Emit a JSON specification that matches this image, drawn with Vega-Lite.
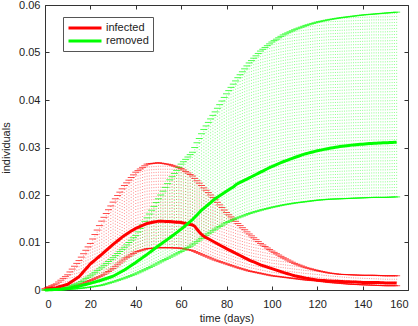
{
"$schema":"https://vega.github.io/schema/vega-lite/v6.json",
"width":363,"height":285,
"autosize":{"type":"none"},
"padding":{"left":45,"top":5,"right":10,"bottom":36},
"config":{"font":"Liberation Sans","view":{"stroke":"#333","strokeWidth":1},
"axis":{"grid":false,"domain":false,"tickSize":-4,"tickColor":"#333","labelFontSize":11,"titleFontSize":11,"labelColor":"#222","titleColor":"#222","titleFontWeight":"normal","labelFont":"Liberation Sans","titleFont":"Liberation Sans"},
"legend":{"orient":"none","legendX":18,"legendY":12,"strokeColor":"#555","fillColor":"white","padding":4,"symbolType":"M-1,0H5","symbolSize":121,"symbolStrokeWidth":3,"labelFontSize":11,"labelColor":"#222","labelOffset":25,"rowPadding":-1,"title":null}},
"data":{"values":[
{"d":0,"infected":0.0002,"il":0,"iu":0.0003,"removed":0,"rl":0,"ru":0},
{"d":1,"infected":0.00026,"il":0.00002,"iu":0.0005,"removed":0.00002,"rl":0,"ru":0.00004},
{"d":2,"infected":0.00032,"il":0.00004,"iu":0.0007,"removed":0.00004,"rl":0,"ru":0.00008},
{"d":3,"infected":0.00038,"il":0.00006,"iu":0.0009,"removed":0.00006,"rl":0,"ru":0.00012},
{"d":4,"infected":0.00044,"il":0.00008,"iu":0.0011,"removed":0.00008,"rl":0,"ru":0.00016},
{"d":5,"infected":0.0005,"il":0.0001,"iu":0.0013,"removed":0.0001,"rl":0,"ru":0.0002},
{"d":6,"infected":0.00064,"il":0.00016,"iu":0.00168,"removed":0.00014,"rl":0.00002,"ru":0.00028},
{"d":7,"infected":0.00078,"il":0.00022,"iu":0.00206,"removed":0.00018,"rl":0.00004,"ru":0.00036},
{"d":8,"infected":0.00092,"il":0.00028,"iu":0.00244,"removed":0.00022,"rl":0.00006,"ru":0.00044},
{"d":9,"infected":0.00106,"il":0.00034,"iu":0.00282,"removed":0.00026,"rl":0.00008,"ru":0.00052},
{"d":10,"infected":0.0012,"il":0.0004,"iu":0.0032,"removed":0.0003,"rl":0.0001,"ru":0.0006},
{"d":11,"infected":0.00152,"il":0.00052,"iu":0.0038,"removed":0.0004,"rl":0.00014,"ru":0.00078},
{"d":12,"infected":0.00184,"il":0.00064,"iu":0.0044,"removed":0.0005,"rl":0.00018,"ru":0.00096},
{"d":13,"infected":0.00216,"il":0.00076,"iu":0.005,"removed":0.0006,"rl":0.00022,"ru":0.00114},
{"d":14,"infected":0.00248,"il":0.00088,"iu":0.0056,"removed":0.0007,"rl":0.00026,"ru":0.00132},
{"d":15,"infected":0.0028,"il":0.001,"iu":0.0062,"removed":0.0008,"rl":0.0003,"ru":0.0015},
{"d":16,"infected":0.00334,"il":0.0012,"iu":0.00692,"removed":0.00092,"rl":0.00036,"ru":0.0018},
{"d":17,"infected":0.00388,"il":0.0014,"iu":0.00764,"removed":0.00104,"rl":0.00042,"ru":0.0021},
{"d":18,"infected":0.00442,"il":0.0016,"iu":0.00836,"removed":0.00116,"rl":0.00048,"ru":0.0024},
{"d":19,"infected":0.00496,"il":0.0018,"iu":0.00908,"removed":0.00128,"rl":0.00054,"ru":0.0027},
{"d":20,"infected":0.0055,"il":0.002,"iu":0.0098,"removed":0.0014,"rl":0.0006,"ru":0.003},
{"d":21,"infected":0.0059,"il":0.0022,"iu":0.01074,"removed":0.00154,"rl":0.00068,"ru":0.00336},
{"d":22,"infected":0.0063,"il":0.0024,"iu":0.01168,"removed":0.00168,"rl":0.00076,"ru":0.00372},
{"d":23,"infected":0.0067,"il":0.0026,"iu":0.01262,"removed":0.00182,"rl":0.00084,"ru":0.00408},
{"d":24,"infected":0.0071,"il":0.0028,"iu":0.01356,"removed":0.00196,"rl":0.00092,"ru":0.00444},
{"d":25,"infected":0.0075,"il":0.003,"iu":0.0145,"removed":0.0021,"rl":0.001,"ru":0.0048},
{"d":26,"infected":0.00792,"il":0.0033,"iu":0.0153,"removed":0.00226,"rl":0.00114,"ru":0.0052},
{"d":27,"infected":0.00834,"il":0.0036,"iu":0.0161,"removed":0.00242,"rl":0.00128,"ru":0.0056},
{"d":28,"infected":0.00876,"il":0.0039,"iu":0.0169,"removed":0.00258,"rl":0.00142,"ru":0.006},
{"d":29,"infected":0.00918,"il":0.0042,"iu":0.0177,"removed":0.00274,"rl":0.00156,"ru":0.0064},
{"d":30,"infected":0.0096,"il":0.0045,"iu":0.0185,"removed":0.0029,"rl":0.0017,"ru":0.0068},
{"d":31,"infected":0.00998,"il":0.0049,"iu":0.0192,"removed":0.00316,"rl":0.00186,"ru":0.00724},
{"d":32,"infected":0.01036,"il":0.0053,"iu":0.0199,"removed":0.00342,"rl":0.00202,"ru":0.00768},
{"d":33,"infected":0.01074,"il":0.0057,"iu":0.0206,"removed":0.00368,"rl":0.00218,"ru":0.00812},
{"d":34,"infected":0.01112,"il":0.0061,"iu":0.0213,"removed":0.00394,"rl":0.00234,"ru":0.00856},
{"d":35,"infected":0.0115,"il":0.0065,"iu":0.022,"removed":0.0042,"rl":0.0025,"ru":0.009},
{"d":36,"infected":0.0118,"il":0.0068,"iu":0.02256,"removed":0.00452,"rl":0.00268,"ru":0.0095},
{"d":37,"infected":0.0121,"il":0.0071,"iu":0.02312,"removed":0.00484,"rl":0.00286,"ru":0.01},
{"d":38,"infected":0.0124,"il":0.0074,"iu":0.02368,"removed":0.00516,"rl":0.00304,"ru":0.0105},
{"d":39,"infected":0.0127,"il":0.0077,"iu":0.02424,"removed":0.00548,"rl":0.00322,"ru":0.011},
{"d":40,"infected":0.013,"il":0.008,"iu":0.0248,"removed":0.0058,"rl":0.0034,"ru":0.0115},
{"d":41,"infected":0.0132,"il":0.00814,"iu":0.02514,"removed":0.00614,"rl":0.00362,"ru":0.01224},
{"d":42,"infected":0.0134,"il":0.00828,"iu":0.02548,"removed":0.00648,"rl":0.00384,"ru":0.01298},
{"d":43,"infected":0.0136,"il":0.00842,"iu":0.02582,"removed":0.00682,"rl":0.00406,"ru":0.01372},
{"d":44,"infected":0.0138,"il":0.00856,"iu":0.02616,"removed":0.00716,"rl":0.00428,"ru":0.01446},
{"d":45,"infected":0.014,"il":0.0087,"iu":0.0265,"removed":0.0075,"rl":0.0045,"ru":0.0152},
{"d":46,"infected":0.0141,"il":0.00874,"iu":0.02656,"removed":0.00786,"rl":0.00474,"ru":0.016},
{"d":47,"infected":0.0142,"il":0.00878,"iu":0.02662,"removed":0.00822,"rl":0.00498,"ru":0.0168},
{"d":48,"infected":0.0143,"il":0.00882,"iu":0.02668,"removed":0.00858,"rl":0.00522,"ru":0.0176},
{"d":49,"infected":0.0144,"il":0.00886,"iu":0.02674,"removed":0.00894,"rl":0.00546,"ru":0.0184},
{"d":50,"infected":0.0145,"il":0.0089,"iu":0.0268,"removed":0.0093,"rl":0.0057,"ru":0.0192},
{"d":51,"infected":0.0145,"il":0.0089,"iu":0.02672,"removed":0.00964,"rl":0.00594,"ru":0.02},
{"d":52,"infected":0.0145,"il":0.0089,"iu":0.02664,"removed":0.00998,"rl":0.00618,"ru":0.0208},
{"d":53,"infected":0.0144,"il":0.0089,"iu":0.02656,"removed":0.01032,"rl":0.00642,"ru":0.0216},
{"d":54,"infected":0.0144,"il":0.0089,"iu":0.02648,"removed":0.01066,"rl":0.00666,"ru":0.0224},
{"d":55,"infected":0.0144,"il":0.0089,"iu":0.0264,"removed":0.011,"rl":0.0069,"ru":0.0232},
{"d":56,"infected":0.01436,"il":0.00888,"iu":0.02624,"removed":0.01136,"rl":0.00714,"ru":0.02386},
{"d":57,"infected":0.01432,"il":0.00886,"iu":0.02608,"removed":0.01172,"rl":0.00738,"ru":0.02452},
{"d":58,"infected":0.01428,"il":0.00884,"iu":0.02592,"removed":0.01208,"rl":0.00762,"ru":0.02518},
{"d":59,"infected":0.01424,"il":0.00882,"iu":0.02576,"removed":0.01244,"rl":0.00786,"ru":0.02584},
{"d":60,"infected":0.0142,"il":0.0088,"iu":0.0256,"removed":0.0128,"rl":0.0081,"ru":0.0265},
{"d":61,"infected":0.0141,"il":0.0087,"iu":0.02528,"removed":0.0132,"rl":0.00838,"ru":0.027},
{"d":62,"infected":0.014,"il":0.0086,"iu":0.02496,"removed":0.0136,"rl":0.00866,"ru":0.0275},
{"d":63,"infected":0.0139,"il":0.0085,"iu":0.02464,"removed":0.014,"rl":0.00894,"ru":0.028},
{"d":64,"infected":0.0138,"il":0.0084,"iu":0.02432,"removed":0.0144,"rl":0.00922,"ru":0.0285},
{"d":65,"infected":0.0137,"il":0.0083,"iu":0.024,"removed":0.0148,"rl":0.0095,"ru":0.029},
{"d":66,"infected":0.0134,"il":0.0081,"iu":0.0235,"removed":0.0153,"rl":0.00984,"ru":0.03},
{"d":67,"infected":0.0128,"il":0.0079,"iu":0.023,"removed":0.0158,"rl":0.01018,"ru":0.031},
{"d":68,"infected":0.0122,"il":0.0077,"iu":0.0225,"removed":0.0163,"rl":0.01052,"ru":0.0319},
{"d":69,"infected":0.0117,"il":0.0075,"iu":0.022,"removed":0.0168,"rl":0.01086,"ru":0.0329},
{"d":70,"infected":0.0113,"il":0.0073,"iu":0.0215,"removed":0.0172,"rl":0.0112,"ru":0.0338},
{"d":71,"infected":0.01104,"il":0.0071,"iu":0.021,"removed":0.0176,"rl":0.01152,"ru":0.03454},
{"d":72,"infected":0.01078,"il":0.0069,"iu":0.0205,"removed":0.018,"rl":0.01184,"ru":0.03528},
{"d":73,"infected":0.01052,"il":0.0067,"iu":0.02,"removed":0.0184,"rl":0.01216,"ru":0.03602},
{"d":74,"infected":0.01026,"il":0.0065,"iu":0.0195,"removed":0.0188,"rl":0.01248,"ru":0.03676},
{"d":75,"infected":0.01,"il":0.0063,"iu":0.019,"removed":0.0192,"rl":0.0128,"ru":0.0375},
{"d":76,"infected":0.00974,"il":0.00614,"iu":0.01846,"removed":0.01952,"rl":0.01308,"ru":0.03826},
{"d":77,"infected":0.00948,"il":0.00598,"iu":0.01792,"removed":0.01984,"rl":0.01336,"ru":0.03902},
{"d":78,"infected":0.00922,"il":0.00582,"iu":0.01738,"removed":0.02016,"rl":0.01364,"ru":0.03978},
{"d":79,"infected":0.00896,"il":0.00566,"iu":0.01684,"removed":0.02048,"rl":0.01392,"ru":0.04054},
{"d":80,"infected":0.0087,"il":0.0055,"iu":0.0163,"removed":0.0208,"rl":0.0142,"ru":0.0413},
{"d":81,"infected":0.00846,"il":0.00534,"iu":0.01584,"removed":0.0211,"rl":0.0144,"ru":0.04198},
{"d":82,"infected":0.00822,"il":0.00518,"iu":0.01538,"removed":0.0214,"rl":0.0146,"ru":0.04266},
{"d":83,"infected":0.00798,"il":0.00502,"iu":0.01492,"removed":0.0217,"rl":0.0148,"ru":0.04334},
{"d":84,"infected":0.00774,"il":0.00486,"iu":0.01446,"removed":0.0221,"rl":0.015,"ru":0.04402},
{"d":85,"infected":0.0075,"il":0.0047,"iu":0.014,"removed":0.0224,"rl":0.0152,"ru":0.0447},
{"d":86,"infected":0.00726,"il":0.00456,"iu":0.01356,"removed":0.02264,"rl":0.01538,"ru":0.04532},
{"d":87,"infected":0.00702,"il":0.00442,"iu":0.01312,"removed":0.02288,"rl":0.01556,"ru":0.04594},
{"d":88,"infected":0.00678,"il":0.00428,"iu":0.01268,"removed":0.02312,"rl":0.01574,"ru":0.04656},
{"d":89,"infected":0.00654,"il":0.00414,"iu":0.01224,"removed":0.02336,"rl":0.01592,"ru":0.04718},
{"d":90,"infected":0.0063,"il":0.004,"iu":0.0118,"removed":0.0236,"rl":0.0161,"ru":0.0478},
{"d":91,"infected":0.0061,"il":0.0039,"iu":0.0114,"removed":0.02384,"rl":0.01624,"ru":0.0483},
{"d":92,"infected":0.0059,"il":0.0038,"iu":0.011,"removed":0.02408,"rl":0.01638,"ru":0.0488},
{"d":93,"infected":0.0057,"il":0.0037,"iu":0.0106,"removed":0.02432,"rl":0.01652,"ru":0.0493},
{"d":94,"infected":0.0055,"il":0.0036,"iu":0.0102,"removed":0.02456,"rl":0.01666,"ru":0.0498},
{"d":95,"infected":0.0053,"il":0.0035,"iu":0.0098,"removed":0.0248,"rl":0.0168,"ru":0.0503},
{"d":96,"infected":0.00514,"il":0.0034,"iu":0.00948,"removed":0.02504,"rl":0.01692,"ru":0.05068},
{"d":97,"infected":0.00498,"il":0.0033,"iu":0.00916,"removed":0.02528,"rl":0.01704,"ru":0.05106},
{"d":98,"infected":0.00482,"il":0.0032,"iu":0.00884,"removed":0.02552,"rl":0.01716,"ru":0.05144},
{"d":99,"infected":0.00466,"il":0.0031,"iu":0.00852,"removed":0.02576,"rl":0.01728,"ru":0.05182},
{"d":100,"infected":0.0045,"il":0.003,"iu":0.0082,"removed":0.026,"rl":0.0174,"ru":0.0522},
{"d":101,"infected":0.00434,"il":0.00294,"iu":0.00792,"removed":0.0262,"rl":0.0175,"ru":0.0525},
{"d":102,"infected":0.00418,"il":0.00288,"iu":0.00764,"removed":0.0264,"rl":0.0176,"ru":0.0528},
{"d":103,"infected":0.00402,"il":0.00282,"iu":0.00736,"removed":0.0266,"rl":0.0177,"ru":0.0531},
{"d":104,"infected":0.00386,"il":0.00276,"iu":0.00708,"removed":0.0268,"rl":0.0178,"ru":0.0534},
{"d":105,"infected":0.0037,"il":0.0027,"iu":0.0068,"removed":0.027,"rl":0.0179,"ru":0.0537},
{"d":106,"infected":0.00356,"il":0.00264,"iu":0.00656,"removed":0.02718,"rl":0.01798,"ru":0.05392},
{"d":107,"infected":0.00342,"il":0.00258,"iu":0.00632,"removed":0.02736,"rl":0.01806,"ru":0.05414},
{"d":108,"infected":0.00328,"il":0.00252,"iu":0.00608,"removed":0.02754,"rl":0.01814,"ru":0.05436},
{"d":109,"infected":0.00314,"il":0.00246,"iu":0.00584,"removed":0.02772,"rl":0.01822,"ru":0.05458},
{"d":110,"infected":0.003,"il":0.0024,"iu":0.0056,"removed":0.0279,"rl":0.0183,"ru":0.0548},
{"d":111,"infected":0.0029,"il":0.00234,"iu":0.00542,"removed":0.02806,"rl":0.01836,"ru":0.05498},
{"d":112,"infected":0.0028,"il":0.00228,"iu":0.00524,"removed":0.02822,"rl":0.01842,"ru":0.05516},
{"d":113,"infected":0.0027,"il":0.00222,"iu":0.00506,"removed":0.02838,"rl":0.01848,"ru":0.05534},
{"d":114,"infected":0.0026,"il":0.00216,"iu":0.00488,"removed":0.02854,"rl":0.01854,"ru":0.05552},
{"d":115,"infected":0.0025,"il":0.0021,"iu":0.0047,"removed":0.0287,"rl":0.0186,"ru":0.0557},
{"d":116,"infected":0.00242,"il":0.00206,"iu":0.00458,"removed":0.02882,"rl":0.01866,"ru":0.05584},
{"d":117,"infected":0.00234,"il":0.00202,"iu":0.00446,"removed":0.02894,"rl":0.01872,"ru":0.05598},
{"d":118,"infected":0.00226,"il":0.00198,"iu":0.00434,"removed":0.02906,"rl":0.01878,"ru":0.05612},
{"d":119,"infected":0.00218,"il":0.00194,"iu":0.00422,"removed":0.02918,"rl":0.01884,"ru":0.05626},
{"d":120,"infected":0.0021,"il":0.0019,"iu":0.0041,"removed":0.0293,"rl":0.0189,"ru":0.0564},
{"d":121,"infected":0.00206,"il":0.00184,"iu":0.004,"removed":0.0294,"rl":0.01894,"ru":0.0565},
{"d":122,"infected":0.00202,"il":0.00178,"iu":0.0039,"removed":0.0295,"rl":0.01898,"ru":0.0566},
{"d":123,"infected":0.00198,"il":0.00172,"iu":0.0038,"removed":0.0296,"rl":0.01902,"ru":0.0567},
{"d":124,"infected":0.00194,"il":0.00166,"iu":0.0037,"removed":0.0297,"rl":0.01906,"ru":0.0568},
{"d":125,"infected":0.0019,"il":0.0016,"iu":0.0036,"removed":0.0298,"rl":0.0191,"ru":0.0569},
{"d":126,"infected":0.00188,"il":0.00156,"iu":0.00354,"removed":0.02988,"rl":0.01912,"ru":0.05698},
{"d":127,"infected":0.00186,"il":0.00152,"iu":0.00348,"removed":0.02996,"rl":0.01914,"ru":0.05706},
{"d":128,"infected":0.00184,"il":0.00148,"iu":0.00342,"removed":0.03004,"rl":0.01916,"ru":0.05714},
{"d":129,"infected":0.00182,"il":0.00144,"iu":0.00336,"removed":0.03012,"rl":0.01918,"ru":0.05722},
{"d":130,"infected":0.0018,"il":0.0014,"iu":0.0033,"removed":0.0302,"rl":0.0192,"ru":0.0573},
{"d":131,"infected":0.00178,"il":0.00136,"iu":0.00328,"removed":0.03026,"rl":0.01922,"ru":0.05736},
{"d":132,"infected":0.00176,"il":0.00132,"iu":0.00326,"removed":0.03032,"rl":0.01924,"ru":0.05742},
{"d":133,"infected":0.00174,"il":0.00128,"iu":0.00324,"removed":0.03038,"rl":0.01926,"ru":0.05748},
{"d":134,"infected":0.00172,"il":0.00124,"iu":0.00322,"removed":0.03044,"rl":0.01928,"ru":0.05754},
{"d":135,"infected":0.0017,"il":0.0012,"iu":0.0032,"removed":0.0305,"rl":0.0193,"ru":0.0576},
{"d":136,"infected":0.00168,"il":0.00118,"iu":0.00318,"removed":0.03054,"rl":0.01932,"ru":0.05766},
{"d":137,"infected":0.00166,"il":0.00116,"iu":0.00316,"removed":0.03058,"rl":0.01934,"ru":0.05772},
{"d":138,"infected":0.00164,"il":0.00114,"iu":0.00314,"removed":0.03062,"rl":0.01936,"ru":0.05778},
{"d":139,"infected":0.00162,"il":0.00112,"iu":0.00312,"removed":0.03066,"rl":0.01938,"ru":0.05784},
{"d":140,"infected":0.0016,"il":0.0011,"iu":0.0031,"removed":0.0307,"rl":0.0194,"ru":0.0579},
{"d":141,"infected":0.0016,"il":0.00108,"iu":0.0031,"removed":0.03074,"rl":0.01942,"ru":0.05794},
{"d":142,"infected":0.0016,"il":0.00106,"iu":0.0031,"removed":0.03078,"rl":0.01944,"ru":0.05798},
{"d":143,"infected":0.0016,"il":0.00104,"iu":0.0031,"removed":0.03082,"rl":0.01946,"ru":0.05802},
{"d":144,"infected":0.0016,"il":0.00102,"iu":0.0031,"removed":0.03086,"rl":0.01948,"ru":0.05806},
{"d":145,"infected":0.0016,"il":0.001,"iu":0.0031,"removed":0.0309,"rl":0.0195,"ru":0.0581},
{"d":146,"infected":0.00158,"il":0.00098,"iu":0.00308,"removed":0.03092,"rl":0.0195,"ru":0.05814},
{"d":147,"infected":0.00156,"il":0.00096,"iu":0.00306,"removed":0.03094,"rl":0.0195,"ru":0.05818},
{"d":148,"infected":0.00154,"il":0.00094,"iu":0.00304,"removed":0.03096,"rl":0.0195,"ru":0.05822},
{"d":149,"infected":0.00152,"il":0.00092,"iu":0.00302,"removed":0.03098,"rl":0.0195,"ru":0.05826},
{"d":150,"infected":0.0015,"il":0.0009,"iu":0.003,"removed":0.031,"rl":0.0195,"ru":0.0583},
{"d":151,"infected":0.0015,"il":0.0009,"iu":0.003,"removed":0.03102,"rl":0.01952,"ru":0.05834},
{"d":152,"infected":0.0015,"il":0.0009,"iu":0.003,"removed":0.03104,"rl":0.01954,"ru":0.05838},
{"d":153,"infected":0.0015,"il":0.0009,"iu":0.003,"removed":0.03106,"rl":0.01956,"ru":0.05842},
{"d":154,"infected":0.0015,"il":0.0009,"iu":0.003,"removed":0.03108,"rl":0.01958,"ru":0.05846},
{"d":155,"infected":0.0015,"il":0.0009,"iu":0.003,"removed":0.0311,"rl":0.0196,"ru":0.0585}
]},
"layer":[
{"mark":{"type":"rule","color":"#ff0000","opacity":0.45,"strokeWidth":1,"strokeDash":[1,2]},
"encoding":{"x":{"field":"d","type":"quantitative","scale":{"domain":[0,160],"nice":false},"axis":{"orient":"bottom","values":[0,20,40,60,80,100,120,140,160],"title":"time (days)","labelPadding":12,"titlePadding":3}},
"y":{"field":"il","type":"quantitative","scale":{"domain":[0,0.06],"nice":false,"zero":false},"axis":{"orient":"left","values":[0,0.01,0.02,0.03,0.04,0.05,0.06],"format":"~g","title":"individuals","labelPadding":9,"titlePadding":7}},
"y2":{"field":"iu"}}},
{"mark":{"type":"rule","color":"#00ff00","opacity":0.45,"strokeWidth":1,"strokeDash":[1,2]},
"encoding":{"x":{"field":"d","type":"quantitative","axis":{"orient":"top","values":[0,20,40,60,80,100,120,140,160],"labels":false,"title":null}},
"y":{"field":"rl","type":"quantitative","axis":{"orient":"right","values":[0,0.01,0.02,0.03,0.04,0.05,0.06],"labels":false,"title":null}},
"y2":{"field":"ru"}}},
{"mark":{"type":"tick","orient":"horizontal","color":"#ff0000","size":7,"thickness":1},
"encoding":{"x":{"field":"d","type":"quantitative","axis":null},"y":{"field":"iu","type":"quantitative","axis":null}}},
{"mark":{"type":"tick","orient":"horizontal","color":"#ff0000","size":7,"thickness":1},
"encoding":{"x":{"field":"d","type":"quantitative","axis":null},"y":{"field":"il","type":"quantitative","axis":null}}},
{"mark":{"type":"tick","orient":"horizontal","color":"#00ff00","size":7,"thickness":1},
"encoding":{"x":{"field":"d","type":"quantitative","axis":null},"y":{"field":"ru","type":"quantitative","axis":null}}},
{"mark":{"type":"tick","orient":"horizontal","color":"#00ff00","size":7,"thickness":1},
"encoding":{"x":{"field":"d","type":"quantitative","axis":null},"y":{"field":"rl","type":"quantitative","axis":null}}},
{"transform":[{"fold":["infected","removed"],"as":["series","value"]}],
"mark":{"type":"line","strokeWidth":3},
"encoding":{"x":{"field":"d","type":"quantitative","axis":null},"y":{"field":"value","type":"quantitative","axis":null},
"color":{"field":"series","type":"nominal","scale":{"domain":["infected","removed"],"range":["#ff0000","#00ff00"]}}}}
],
"resolve":{"axis":{"x":"independent","y":"independent"}}
}
